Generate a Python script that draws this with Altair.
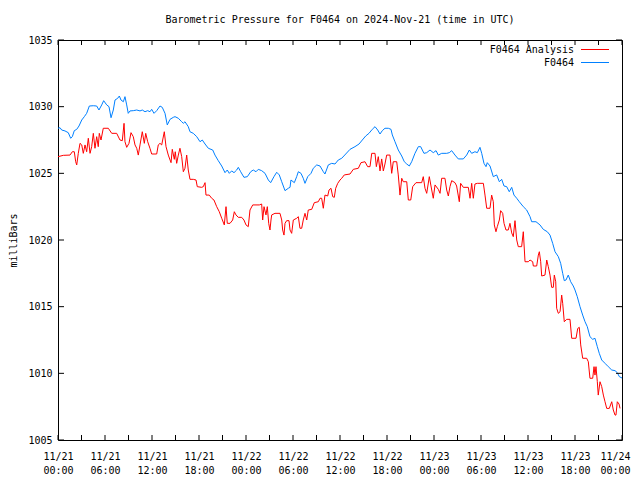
import altair as alt
import pandas as pd

FONT = "DejaVu Sans Mono"
title_text = "Barometric Pressure for F0464 on 2024-Nov-21 (time in UTC)"
series_names = ["F0464 Analysis", "F0464"]
series_colors = ["#ff0000", "#0080ff"]
start_time = "2024-11-21T00:00:00Z"
y_ticks = [1005, 1010, 1015, 1020, 1025, 1030, 1035]
x_tick_hours = list(range(0, 73, 3))
x_label_hours = list(range(0, 73, 6))

# F0464 (observed), hours since 11/21 00:00 UTC and millibars
hours_obs = [0.0,0.26,0.47,0.89,1.31,1.62,1.83,2.08,2.39,2.68,3.03,3.36,3.66,4.00,4.51,4.94,5.23,5.58,5.83,6.22,6.51,6.77,7.06,7.28,7.62,7.83,8.04,8.34,8.55,8.77,8.97,9.19,9.61,10.05,10.47,10.76,11.11,11.45,11.74,11.96,12.26,12.60,13.02,13.31,13.66,13.95,14.30,14.72,14.94,15.36,15.79,16.00,16.21,16.63,16.85,17.27,17.71,18.13,18.42,18.77,19.19,19.75,20.04,20.46,20.90,21.32,21.61,21.87,22.17,22.47,22.81,23.02,23.32,23.74,24.17,24.60,24.93,25.28,25.57,26.00,26.43,26.85,27.15,27.57,27.92,28.25,28.56,28.98,29.40,29.62,29.74,30.17,30.47,30.68,31.02,31.31,31.53,31.88,32.30,32.59,33.03,33.45,33.87,34.08,34.51,34.94,35.36,35.78,36.22,36.73,37.28,37.91,38.43,38.85,39.28,39.70,40.12,40.47,40.81,41.11,41.40,41.74,42.17,42.51,42.68,43.02,43.44,43.88,44.21,44.52,44.85,45.15,45.57,46.00,46.30,46.72,47.07,47.49,47.91,48.26,48.55,48.98,49.62,49.95,50.26,50.68,51.10,51.74,52.17,52.51,52.81,53.23,53.53,53.87,54.09,54.38,54.64,54.80,55.15,55.57,56.00,56.34,56.64,56.94,57.28,57.61,57.92,58.21,58.56,58.89,59.40,59.83,60.26,60.47,61.02,61.53,61.95,62.46,62.81,63.15,63.45,63.87,64.17,64.43,64.63,64.85,65.14,65.45,65.78,66.00,66.29,66.64,66.98,67.28,67.57,67.91,68.26,68.55,68.85,69.10,69.41,69.83,70.25,70.69,71.11,71.40,71.66,72.0]
pressure_obs = [1028.38,1028.42,1028.25,1028.18,1028.05,1027.63,1027.75,1028.20,1028.30,1028.55,1029.00,1029.25,1029.50,1030.05,1030.07,1030.05,1029.75,1030.13,1030.45,1030.13,1030.00,1029.17,1029.75,1030.50,1030.63,1030.80,1030.50,1030.37,1030.75,1030.13,1029.50,1029.68,1029.70,1029.75,1029.68,1029.75,1029.62,1029.70,1029.62,1029.80,1029.50,1029.70,1030.05,1029.95,1029.50,1028.63,1029.05,1029.20,1029.25,1029.13,1028.87,1028.75,1028.87,1028.50,1028.12,1028.00,1027.75,1027.37,1027.50,1027.20,1026.88,1026.75,1026.37,1025.95,1025.55,1025.05,1025.25,1025.00,1025.18,1025.05,1025.25,1025.45,1025.12,1024.70,1024.75,1025.12,1025.25,1025.12,1025.30,1025.20,1025.00,1024.50,1024.30,1024.75,1025.08,1024.88,1024.37,1023.70,1023.88,1023.95,1024.50,1024.30,1024.75,1025.12,1025.00,1024.63,1024.25,1024.75,1025.00,1025.38,1025.63,1025.55,1025.12,1024.95,1025.63,1025.75,1025.70,1026.00,1026.13,1026.45,1026.80,1027.00,1027.20,1027.50,1027.80,1028.00,1028.30,1028.50,1028.25,1027.95,1028.20,1028.38,1028.38,1028.30,1027.88,1027.37,1026.75,1026.30,1025.87,1025.70,1025.55,1025.87,1026.50,1027.00,1027.00,1026.50,1026.55,1026.75,1026.55,1026.70,1026.37,1026.50,1026.50,1026.55,1026.70,1026.37,1026.08,1026.08,1026.37,1026.75,1026.50,1026.62,1026.55,1026.95,1026.50,1025.75,1025.50,1025.80,1025.55,1024.75,1024.88,1024.37,1024.55,1024.05,1024.00,1023.62,1023.95,1023.37,1023.13,1022.87,1022.50,1022.25,1021.75,1021.37,1021.37,1021.13,1020.80,1020.62,1020.37,1019.75,1019.12,1018.75,1018.25,1017.50,1016.95,1017.00,1017.37,1016.87,1016.55,1016.25,1015.75,1015.00,1014.37,1013.87,1013.50,1012.75,1012.55,1012.63,1012.00,1011.50,1011.00,1010.75,1010.50,1010.25,1010.20,1010.05,1009.75,1009.65]

# F0464 Analysis
hours_ana = [0.0,0.68,1.53,1.83,2.08,2.26,2.39,2.59,2.81,3.03,3.23,3.45,3.66,3.87,4.09,4.30,4.51,4.72,4.94,5.14,5.27,5.49,5.78,6.42,6.86,7.49,7.91,8.21,8.43,8.55,8.77,9.06,9.32,9.61,9.83,10.05,10.25,10.47,10.76,11.02,11.20,11.45,11.74,11.96,12.60,12.80,13.02,13.24,13.57,13.79,14.08,14.43,14.59,14.85,14.97,15.15,15.36,15.57,15.79,16.00,16.21,16.43,16.63,16.85,17.27,17.62,17.78,18.34,18.55,18.77,18.89,19.31,19.62,19.91,20.26,20.59,20.90,21.23,21.45,21.61,21.96,22.30,22.51,22.72,23.02,23.45,23.74,24.00,24.29,24.51,24.86,25.70,26.00,26.13,26.30,26.55,26.72,26.90,27.06,27.19,27.28,27.70,28.34,28.56,28.68,28.85,28.98,29.19,29.49,29.62,29.83,30.04,30.47,30.68,30.89,31.11,31.31,31.53,31.75,31.95,32.39,32.72,33.23,33.45,33.66,33.87,34.08,34.43,34.60,34.85,35.07,35.27,35.45,35.71,36.00,36.22,36.55,37.28,37.70,38.34,38.68,39.19,39.53,39.83,40.05,40.47,40.64,40.89,41.11,41.32,41.53,41.74,41.96,42.38,42.60,42.80,43.24,43.44,43.66,43.88,44.08,44.52,44.72,45.03,45.28,45.70,46.43,46.63,46.85,47.07,47.40,47.71,47.91,48.13,48.55,48.77,48.98,49.40,49.62,49.83,50.04,50.26,50.68,50.89,51.23,51.40,51.74,52.38,52.60,52.81,53.02,53.23,53.53,54.30,54.51,54.73,55.15,55.36,55.57,55.70,55.91,56.08,56.34,56.51,56.77,56.94,57.19,57.48,57.70,57.92,58.12,58.34,58.56,58.76,59.19,59.40,59.62,60.04,60.26,60.60,60.68,61.11,61.32,61.45,61.62,61.75,62.17,62.39,62.59,62.81,63.02,63.23,63.36,63.54,63.66,63.87,64.09,64.30,64.43,64.63,64.94,65.36,65.58,66.13,66.35,66.55,66.73,66.98,67.49,67.70,67.91,68.26,68.43,68.55,68.68,68.85,68.97,69.19,69.41,69.62,69.83,70.05,70.38,70.69,70.89,71.11,71.23,71.40,71.62,71.75]
pressure_ana = [1026.25,1026.35,1026.37,1026.62,1026.62,1025.87,1025.63,1026.50,1027.25,1027.13,1026.50,1027.13,1026.62,1027.63,1026.50,1027.00,1028.00,1026.88,1027.75,1027.00,1028.00,1027.50,1028.38,1028.38,1028.00,1028.00,1027.50,1027.45,1028.75,1027.37,1026.95,1027.25,1028.05,1027.75,1027.13,1026.88,1026.37,1027.13,1028.12,1027.25,1028.00,1027.37,1026.88,1026.45,1026.45,1027.13,1027.25,1027.13,1028.12,1027.00,1026.37,1025.80,1026.80,1026.05,1026.62,1025.75,1026.37,1026.88,1026.25,1025.12,1025.38,1026.37,1025.25,1024.55,1024.55,1024.50,1024.00,1023.95,1024.00,1024.30,1023.37,1023.37,1023.13,1023.00,1022.50,1022.12,1021.63,1021.13,1022.50,1021.25,1021.25,1021.50,1022.12,1021.88,1021.70,1021.70,1021.50,1021.13,1021.00,1022.25,1022.63,1022.63,1022.70,1021.50,1022.50,1021.88,1022.50,1021.25,1020.75,1021.50,1021.88,1022.00,1022.00,1021.50,1020.75,1020.37,1021.25,1021.45,1021.45,1020.75,1020.50,1021.50,1021.63,1021.75,1020.88,1020.88,1021.50,1022.00,1021.50,1022.25,1022.30,1022.80,1022.87,1023.13,1023.13,1022.38,1023.37,1023.30,1023.75,1023.88,1023.25,1023.20,1023.88,1024.25,1024.50,1024.63,1024.88,1024.95,1025.30,1025.38,1025.80,1025.87,1025.50,1025.50,1026.50,1026.50,1025.50,1026.25,1025.18,1026.08,1025.18,1025.70,1026.37,1026.37,1025.00,1025.87,1025.87,1024.88,1023.37,1024.63,1024.37,1024.37,1023.00,1023.00,1024.00,1024.30,1024.30,1024.75,1023.88,1023.50,1024.75,1023.75,1023.13,1024.13,1023.80,1023.50,1024.63,1024.63,1023.75,1023.30,1024.00,1024.45,1024.30,1024.05,1022.87,1024.25,1023.95,1023.95,1023.13,1024.25,1023.13,1024.20,1024.25,1024.25,1023.37,1022.38,1022.38,1023.37,1022.87,1021.13,1020.62,1021.00,1021.50,1022.20,1022.00,1021.25,1020.75,1020.75,1021.25,1020.53,1020.25,1021.45,1020.00,1019.50,1019.50,1020.62,1018.37,1018.37,1018.50,1018.37,1018.05,1018.05,1018.87,1019.12,1018.37,1017.30,1017.37,1018.50,1018.00,1017.37,1016.45,1016.45,1017.37,1016.87,1014.88,1014.50,1014.62,1015.87,1015.25,1013.87,1014.05,1014.05,1012.63,1012.63,1013.37,1013.45,1012.13,1011.13,1011.13,1010.87,1009.63,1009.63,1010.50,1009.87,1010.50,1009.37,1008.37,1009.37,1009.00,1008.37,1007.87,1007.37,1007.37,1007.87,1007.25,1006.87,1006.87,1007.87,1007.70,1007.37]

T0 = pd.Timestamp(start_time)


def iso(h):
    return (T0 + pd.Timedelta(hours=h)).strftime("%Y-%m-%dT%H:%M:%SZ")


def ms(h):
    return int((T0 + pd.Timedelta(hours=h)).value // 10**6)


def series_df(hours, vals, name):
    n = min(len(hours), len(vals))
    return pd.DataFrame({"time": [iso(h) for h in hours[:n]],
                         "pressure": vals[:n], "series": name})


df = pd.concat([series_df(hours_ana, pressure_ana, series_names[0]),
                series_df(hours_obs, pressure_obs, series_names[1])])

W, H = 564, 400
TICK = 5
last_label = ms(x_label_hours[-1])

x_enc = alt.X(
    "time:T",
    scale=alt.Scale(type="utc", domain=[ms(0), ms(72)], nice=False),
    axis=alt.Axis(
        values=[ms(h) for h in x_label_hours],
        labelExpr="[utcFormat(datum.value, '%m/%d'), utcFormat(datum.value, '%H:%M')]",
        domain=False, ticks=False, grid=False, title=None,
        labelFont=FONT, labelFontSize=10, labelColor="black",
        labelPadding=11, labelLineHeight=14, labelAngle=0,
        labelAlign="center", labelBaseline="top",
        labelOffset={"condition": {"test": f"time(datum.value) >= {last_label}", "value": -7}, "value": 0},
        labelFlush=False, labelOverlap=False, labelBound=False,
    ),
)
y_enc = alt.Y(
    "pressure:Q",
    scale=alt.Scale(domain=[1005, 1035], nice=False, zero=False),
    axis=alt.Axis(
        values=y_ticks, format="d",
        domain=False, ticks=False, grid=False,
        labelFont=FONT, labelFontSize=10, labelColor="black",
        labelPadding=6, labelFlush=False, labelOverlap=False,
        title="milliBars", titleFont=FONT, titleFontSize=10,
        titleFontWeight="normal", titleColor="black", titleAngle=-90,
        titleX=-45, titleY=H / 2, titleAlign="center", titleBaseline="middle",
    ),
)

lines = alt.Chart(df).mark_line(strokeWidth=1, interpolate="linear").encode(
    x=x_enc, y=y_enc,
    color=alt.Color("series:N", scale=alt.Scale(domain=series_names, range=series_colors), legend=None),
)

xt = pd.DataFrame({"time": [iso(h) for h in x_tick_hours]})
yt = pd.DataFrame({"pressure": y_ticks})

bottom_ticks = alt.Chart(xt).mark_rule(strokeWidth=1).encode(
    x=x_enc, y=alt.value(H), y2=alt.value(H - TICK), color=alt.value("black"))
top_ticks = alt.Chart(xt).mark_rule(strokeWidth=1).encode(
    x=x_enc, y=alt.value(0), y2=alt.value(TICK), color=alt.value("black"))
left_ticks = alt.Chart(yt).mark_rule(strokeWidth=1).encode(
    y=y_enc, x=alt.value(0), x2=alt.value(TICK + 1), color=alt.value("black"))
right_ticks = alt.Chart(yt).mark_rule(strokeWidth=1).encode(
    y=y_enc, x=alt.value(W), x2=alt.value(W - TICK - 1), color=alt.value("black"))

legend_layers = []
for i, (name, col) in enumerate(zip(series_names, series_colors)):
    ly = 9.5 + 13 * i
    ldf = pd.DataFrame({"label": [name]})
    legend_layers.append(
        alt.Chart(ldf).mark_text(align="right", baseline="middle", font=FONT,
                                 fontSize=10).encode(
            x=alt.value(516), y=alt.value(ly), text="label:N",
            color=alt.value("black")))
    legend_layers.append(
        alt.Chart(ldf).mark_rule(strokeWidth=1).encode(
            x=alt.value(523), x2=alt.value(551), y=alt.value(ly),
            color=alt.value(col)))

chart = alt.layer(lines, bottom_ticks, top_ticks, left_ticks, right_ticks, *legend_layers).properties(
    width=W, height=H,
    title=alt.Title(title_text, font=FONT, fontSize=10, fontWeight="normal",
                    anchor="middle", frame="group", offset=10, color="black"),
    autosize=alt.AutoSizeParams(type="none"),
    padding={"left": 50, "top": 32, "right": 10, "bottom": 40},
    background="white",
).configure_view(stroke="black", strokeWidth=1)

chart.save("out.html", embed_options={"renderer": "svg", "actions": False})
